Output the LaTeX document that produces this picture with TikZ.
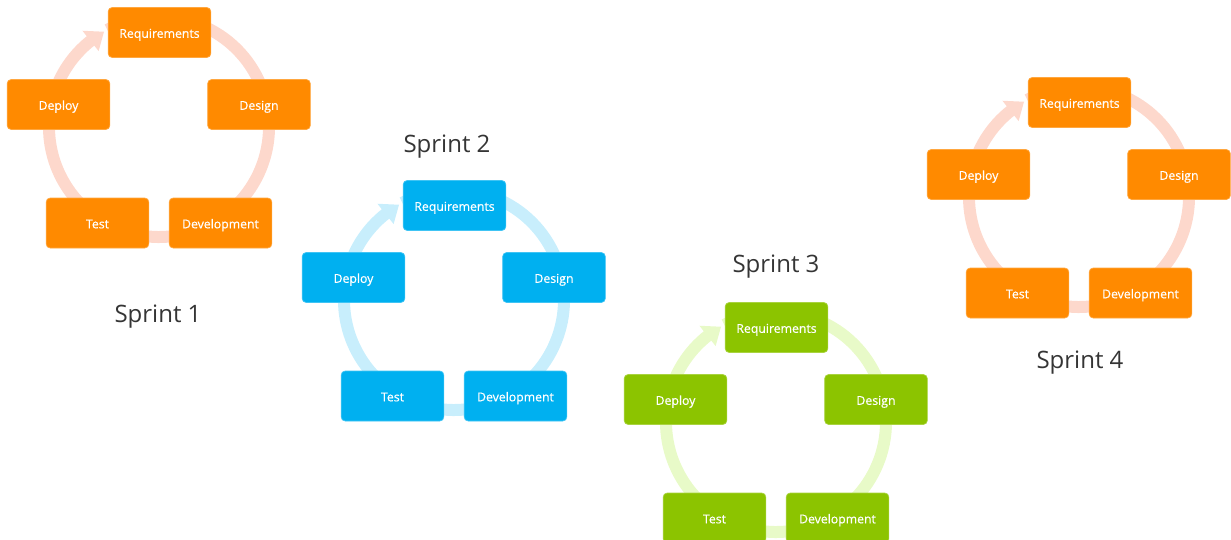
\documentclass[tikz,border=0pt]{standalone}
\usepackage{fontspec}
\setmainfont{Open Sans}
\newfontfamily\boxfont[FakeBold=0.5]{Open Sans}
\usetikzlibrary{calc}
\definecolor{orgbox}{HTML}{FF8A00}
\definecolor{orgring}{HTML}{FDD8CC}
\definecolor{bluebox}{HTML}{00B0F0}
\definecolor{bluering}{HTML}{C8EEFC}
\definecolor{grnbox}{HTML}{8CC400}
\definecolor{grnring}{HTML}{E8FAC8}
\definecolor{labgray}{HTML}{353535}
\tikzset{
  stagebox/.style={rectangle, rounded corners=3pt, fill=#1, draw=#1!75!white, line width=0.5pt,
    minimum width=77pt, minimum height=37.5pt, inner sep=0pt, text=white,
    text height=8.5pt, text depth=0.5pt,
    font=\boxfont\fontsize{9.2}{11}\selectfont},
  sprintlab/.style={text=labgray, font=\fontsize{18}{21}\selectfont, anchor=base, inner sep=0pt},
  ringline/.style={line width=9pt, draw=#1}
}
\newcommand{\sprintcycle}[5]{%
\begin{scope}[shift={(#2,-#3)}]
  \coordinate (#1c) at (159,-127);
  \draw[ringline=#5] (#1c) ++(118:110) arc[start angle=118, end angle=-232, radius=110];
  \fill[#5] ($(#1c)+(120:110)$) -- ($(#1c)+(128.5:123)$) -- ($(#1c)+(128.5:97)$) -- cycle;
  \node[stagebox=#4] (#1req) at (159.5,-32.5) {Requirements};
  \node[stagebox=#4] (#1des) at (259,-104.5) {Design};
  \node[stagebox=#4] (#1dev) at (220.5,-223) {Development};
  \node[stagebox=#4] (#1tst) at (97.5,-223) {Test};
  \node[stagebox=#4] (#1dep) at (58.5,-104.5) {Deploy};
\end{scope}}
\begin{document}
\begin{tikzpicture}[x=0.75pt, y=0.75pt]
  \useasboundingbox (0,0) rectangle (1231,-539);
  \sprintcycle{a}{0}{0}{orgbox}{orgring}
  \sprintcycle{b}{295}{173}{bluebox}{bluering}
  \sprintcycle{c}{617}{295}{grnbox}{grnring}
  \sprintcycle{d}{920}{70}{orgbox}{orgring}
  \node[sprintlab] (lab1) at (158,-322) {Sprint 1};
  \node[sprintlab] (lab2) at (447,-152) {Sprint 2};
  \node[sprintlab] (lab3) at (776,-272) {Sprint 3};
  \node[sprintlab] (lab4) at (1080,-368) {Sprint 4};
\end{tikzpicture}
\end{document}
